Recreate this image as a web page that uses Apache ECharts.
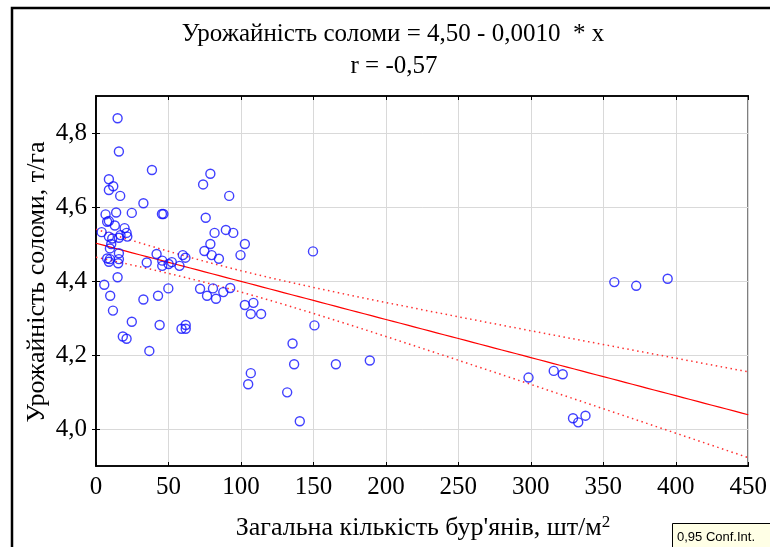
<!DOCTYPE html>
<html>
<head>
<meta charset="utf-8">
<script src="https://cdn.jsdelivr.net/npm/echarts@6/dist/echarts.min.js"></script>
<style>html,body{margin:0;padding:0;background:#fff;}#c{width:770px;height:547px;}</style>
</head>
<body>
<div id="c"></div>
<script>
// Weeds count (шт/м2) and straw yield (т/га)
const weedsX = [
  14.9,15.8,8.9,8.9,11.9,16.7,6.6,13.9,24.7,7.7,8.9,13,19.7,3.9,8.9,11.2,15.8,16.9,21.1,21.6,
  9.6,10.5,15.8,7.7,9.6,15.8,15.3,8.9,14.9,5.7,9.8,11.7,24.7,18.5,21.1,
  38.6,78.9,73.9,91.9,32.7,45.5,46.5,75.7,81.8,89.6,94.7,78.9,102.7,74.8,79.8,84.8,99.7,41.8,59.9,61.7,
  45.7,45.7,50.1,52.3,57.6,35,32.7,42.8,49.9,71.8,76.6,80.7,82.8,87.8,92.6,102.7,108.6,106.8,113.9,
  36.8,43.9,59,61.9,61.9,106.8,105,
  149.7,150.7,135.6,136.7,165.5,188.9,131.9,140.6,
  357.6,372.7,394.4,298.4,315.8,322,329.1,332.7,337.7
];
const strawY = [
  4.84,4.75,4.675,4.646,4.656,4.63,4.58,4.585,4.584,4.56,4.562,4.55,4.543,4.532,4.52,4.515,4.517,4.524,4.53,4.52,
  4.488,4.50,4.475,4.461,4.459,4.459,4.448,4.452,4.41,4.39,4.36,4.32,4.29,4.25,4.244,
  4.70,4.69,4.661,4.63,4.61,4.581,4.581,4.571,4.53,4.538,4.53,4.50,4.50,4.481,4.47,4.46,4.47,4.473,4.47,4.463,
  4.455,4.441,4.446,4.451,4.441,4.45,4.35,4.36,4.38,4.379,4.36,4.38,4.352,4.37,4.381,4.335,4.341,4.311,4.311,
  4.211,4.281,4.271,4.281,4.271,4.151,4.121,
  4.48,4.28,4.231,4.175,4.175,4.185,4.099,4.021,
  4.397,4.387,4.406,4.139,4.157,4.148,4.029,4.018,4.036
];
const xTicks = [0,50,100,150,200,250,300,350,400,450];
const yTicks = [4.0,4.2,4.4,4.6,4.8];
const titleLines = ['Урожайність соломи = 4,50 - 0,0010  * x', 'r = -0,57'];
const xName = "Загальна кількість бур'янів, шт/м";
const yName = 'Урожайність соломи, т/га';
const legendText = '0,95 Conf.Int.';

// regression and 95% confidence band computed from data
const n = weedsX.length;
const mx = weedsX.reduce((a,b)=>a+b,0)/n;
const my = strawY.reduce((a,b)=>a+b,0)/n;
let sxx=0, sxy=0;
for (let i=0;i<n;i++){ sxx+=(weedsX[i]-mx)**2; sxy+=(weedsX[i]-mx)*(strawY[i]-my); }
const b1 = sxy/sxx, b0 = my - b1*mx;
let sse=0; for (let i=0;i<n;i++){ sse+=(strawY[i]-b0-b1*weedsX[i])**2; }
const s = Math.sqrt(sse/(n-2));
const tval = 1.985;
const fitLine=[], upper=[], lower=[];
for (let x=0; x<=450; x+=5){
  const yh=b0+b1*x;
  const se=s*Math.sqrt(1/n+(x-mx)**2/sxx);
  fitLine.push([x,yh]); upper.push([x,yh+tval*se]); lower.push([x,yh-tval*se]);
}
const pts = weedsX.map((x,i)=>[x,strawY[i]]);

const serif = '"Liberation Serif","Times New Roman",serif';
const chart = echarts.init(document.getElementById('c'), null, {renderer:'canvas'});
const gridLine = {show:true, lineStyle:{color:'#d9d9d9', width:1}};
chart.setOption({
  animation:false,
  backgroundColor:'#fff',
  grid:{left:96, right:18, top:96, bottom:81, show:true, borderColor:'#000', borderWidth:1.5},
  xAxis:[{
    type:'value', min:0, max:450, interval:50,
    axisLine:{show:true, lineStyle:{color:'#000', width:1.5}},
    axisTick:{show:true, inside:true, length:4, lineStyle:{color:'#000'}},
    axisLabel:{color:'#000', fontFamily:serif, fontSize:25, margin:9, customValues:xTicks, formatter:v=>String(v)},
    splitLine:gridLine
  },{
    type:'value', position:'top', min:0, max:450, interval:50,
    axisLine:{show:true, lineStyle:{color:'#000', width:1.5}},
    axisTick:{show:true, inside:true, length:4, lineStyle:{color:'#000'}},
    axisLabel:{show:false}, splitLine:{show:false}
  }],
  yAxis:[{
    type:'value', min:3.9, max:4.9,
    axisLine:{show:true, lineStyle:{color:'#000', width:1.5}},
    axisTick:{show:true, inside:true, length:4, customValues:yTicks, lineStyle:{color:'#000'}},
    axisLabel:{color:'#000', fontFamily:serif, fontSize:25, margin:9, customValues:yTicks,
      formatter:v=>v.toFixed(1).replace('.',',')},
    splitLine:gridLine
  },{
    type:'value', position:'right', min:3.9, max:4.9,
    axisLine:{show:true, lineStyle:{color:'#000', width:1.5}},
    axisTick:{show:true, inside:true, length:4, customValues:yTicks, lineStyle:{color:'#000'}},
    axisLabel:{show:false, customValues:yTicks}, splitLine:{show:false}
  }],
  series:[
    {type:'line', data:upper, showSymbol:false, symbol:'none', silent:true,
      lineStyle:{color:'#ff3030', width:1.5, type:[1.5,3.5]}, z:2},
    {type:'line', data:lower, showSymbol:false, symbol:'none', silent:true,
      lineStyle:{color:'#ff3030', width:1.5, type:[1.5,3.5]}, z:2},
    {type:'line', data:fitLine, showSymbol:false, symbol:'none', silent:true,
      lineStyle:{color:'#ff0000', width:1.2}, z:3},
    {type:'scatter', data:pts, symbol:'circle', symbolSize:9,
      itemStyle:{color:'rgba(0,0,0,0)', borderColor:'#1010ff', borderWidth:1.4}, z:4}
  ],
  graphic:[
    {type:'rect', shape:{x:12, y:8, width:800, height:600}, style:{fill:'none', stroke:'#000', lineWidth:2.5}, silent:true},
    {type:'text', x:393, y:34, style:{text:titleLines[0], font:'25px '+serif, fill:'#000', align:'center', verticalAlign:'middle'}},
    {type:'text', x:394, y:66, style:{text:titleLines[1], font:'25px '+serif, fill:'#000', align:'center', verticalAlign:'middle'}},
    {type:'text', x:37, y:282, rotation:Math.PI/2, style:{text:yName, font:'26px '+serif, fill:'#000', align:'center', verticalAlign:'middle'}},
    {type:'text', x:423, y:528, style:{
      text:xName+'{sup|2}', font:'26px '+serif, fill:'#000', align:'center', verticalAlign:'middle',
      rich:{sup:{fontSize:17, fontFamily:serif, verticalAlign:'top', padding:[0,0,10,0]}}}},
    {type:'rect', shape:{x:672.5, y:523.5, width:110, height:26}, style:{fill:'#ffffe6', stroke:'#000', lineWidth:1}},
    {type:'text', x:677, y:537, style:{text:legendText, font:'13px "Liberation Sans",Arial,sans-serif', fill:'#000', verticalAlign:'middle'}}
  ]
});
</script>
</body>
</html>
